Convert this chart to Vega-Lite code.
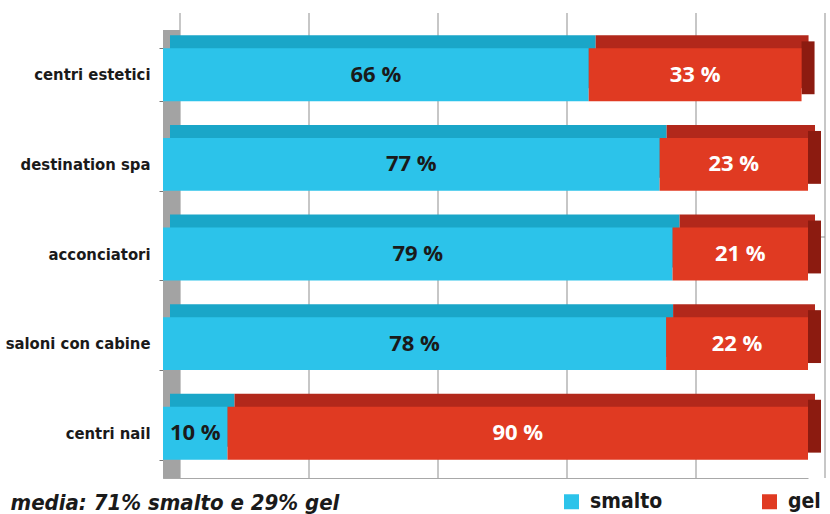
{
  "$schema": "https://vega.github.io/schema/vega-lite/v6.json",
  "width": 645,
  "height": 448,
  "autosize": {"type": "none"},
  "padding": {"left": 163, "top": 30, "right": 22, "bottom": 36},
  "background": "white",
  "config": {"view": {"stroke": null}, "font": "DejaVu Sans Condensed"},
  "datasets": {
    "shares": [
      {"categoria": "centri estetici", "tipo": "smalto", "quota": 66},
      {"categoria": "centri estetici", "tipo": "gel", "quota": 33},
      {"categoria": "destination spa", "tipo": "smalto", "quota": 77},
      {"categoria": "destination spa", "tipo": "gel", "quota": 23},
      {"categoria": "acconciatori", "tipo": "smalto", "quota": 79},
      {"categoria": "acconciatori", "tipo": "gel", "quota": 21},
      {"categoria": "saloni con cabine", "tipo": "smalto", "quota": 78},
      {"categoria": "saloni con cabine", "tipo": "gel", "quota": 22},
      {"categoria": "centri nail", "tipo": "smalto", "quota": 10},
      {"categoria": "centri nail", "tipo": "gel", "quota": 90}
    ],
    "griglia": [{"g": 0}, {"g": 20}, {"g": 40}, {"g": 60}, {"g": 80}, {"g": 100}]
  },
  "data": {"name": "shares"},
  "layer": [
    {
      "data": {"values": [{"w": "parete"}]},
      "mark": {"type": "rect", "color": "#a3a3a3"},
      "encoding": {
        "x": {"datum": 0, "type": "quantitative"},
        "x2": {"datum": 2.6}
      }
    },
    {
      "data": {"name": "griglia"},
      "mark": {"type": "rule", "color": "#8f8f8f", "strokeWidth": 1, "xOffset": 17, "yOffset": -17},
      "encoding": {
        "x": {"field": "g", "type": "quantitative"}
      }
    },
    {
      "data": {"values": [{"w": "bordo"}]},
      "mark": {"type": "rule", "color": "#8f8f8f", "strokeWidth": 1, "xOffset": 17, "x2Offset": 17, "yOffset": -17},
      "encoding": {
        "x": {"datum": 0, "type": "quantitative"},
        "x2": {"datum": 100}
      }
    },
    {
      "mark": {"type": "bar", "yOffset": -13, "xOffset": 7},
      "encoding": {
        "y": {"field": "categoria", "type": "nominal"},
        "x": {"field": "quota", "type": "quantitative", "stack": "zero"},
        "order": {"field": "tipo", "sort": "descending"},
        "detail": {"field": "tipo"},
        "color": {"condition": {"test": "datum.tipo == 'smalto'", "value": "#1aa6c8"}, "value": "#b2281b"}
      }
    },
    {
      "transform": [
        {"joinaggregate": [{"op": "sum", "field": "quota", "as": "totale"}], "groupby": ["categoria"]},
        {"filter": "datum.tipo == 'gel'"}
      ],
      "mark": {"type": "bar", "color": "#8c1b10", "x2Offset": 13, "yOffset": -7},
      "encoding": {
        "y": {"field": "categoria", "type": "nominal"},
        "x": {"field": "totale", "type": "quantitative"},
        "x2": {"field": "totale"}
      }
    },
    {
      "mark": {"type": "bar"},
      "encoding": {
        "y": {
          "field": "categoria",
          "type": "nominal",
          "sort": null,
          "scale": {
            "domain": ["centri estetici", "destination spa", "acconciatori", "saloni con cabine", "centri nail"],
            "paddingInner": 0.41,
            "paddingOuter": 0.205
          },
          "axis": {
            "title": null,
            "labelFont": "DejaVu Sans Condensed",
            "labelFontWeight": "bold",
            "labelFontSize": 16.5,
            "labelColor": "#1a1a1a",
            "labelPadding": 9,
            "tickBand": "extent",
            "tickSize": 4,
            "tickColor": "#777",
            "domainColor": "#888"
          }
        },
        "x": {
          "field": "quota",
          "type": "quantitative",
          "stack": "zero",
          "scale": {"domain": [0, 100], "nice": false},
          "axis": {
            "title": "media: 71% smalto e 29% gel",
            "titleFont": "DejaVu Sans Condensed",
            "titleFontStyle": "italic",
            "titleFontWeight": "bold",
            "titleFontSize": 22,
            "titleColor": "#1a1a1a",
            "titleAlign": "left",
            "titleAnchor": "start",
            "titleBaseline": "top",
            "titleX": -153,
            "titleY": 14,
            "labels": false,
            "ticks": false,
            "grid": false,
            "domainColor": "#a8a8a8"
          }
        },
        "order": {"field": "tipo", "sort": "descending"},
        "color": {
          "field": "tipo",
          "type": "nominal",
          "scale": {"domain": ["smalto", "gel"], "range": ["#2cc3ea", "#e03a22"]},
          "legend": {
            "title": null,
            "orient": "none",
            "legendX": 398,
            "legendY": 461,
            "direction": "horizontal",
            "symbolType": "square",
            "symbolSize": 225,
            "symbolStrokeWidth": 0,
            "symbolOpacity": 1,
            "labelFont": "DejaVu Sans Condensed",
            "labelFontWeight": "bold",
            "labelFontSize": 21,
            "labelColor": "#1a1a1a",
            "labelOffset": 8,
            "columnPadding": 96
          }
        }
      }
    },
    {
      "transform": [
        {"stack": "quota", "groupby": ["categoria"], "sort": [{"field": "tipo", "order": "descending"}], "as": ["inizio", "fine"]},
        {"calculate": "(datum.inizio + datum.fine) / 2", "as": "centro"},
        {"calculate": "datum.quota + ' %'", "as": "etichetta"}
      ],
      "mark": {"type": "text", "font": "Open Sans", "fontWeight": "bold", "fontSize": 22, "align": "center", "baseline": "middle"},
      "encoding": {
        "y": {"field": "categoria", "type": "nominal"},
        "x": {"field": "centro", "type": "quantitative"},
        "text": {"field": "etichetta"},
        "color": {"condition": {"test": "datum.tipo == 'gel'", "value": "white"}, "value": "#1a1a1a"}
      }
    }
  ]
}
